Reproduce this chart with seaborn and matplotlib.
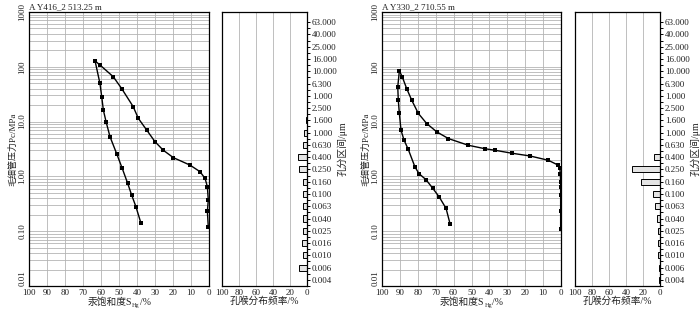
import matplotlib
matplotlib.use('Agg')
import matplotlib.pyplot as plt
import seaborn as sns
import pandas as pd
import numpy as np
from matplotlib.ticker import FixedLocator, LogLocator, NullFormatter

# Sample A Y416 (2 513.25 m): mercury injection / withdrawal curves
s1_in = [0.4, 0.9, 0.4, 0.9, 2.2, 5.0, 10.6, 19.8, 25.4, 30.0, 34.6, 39.3, 42.1, 48.5, 53.2, 60.6, 63.3]
p1_in = [0.12, 0.23, 0.37, 0.65, 0.92, 1.22, 1.61, 2.2, 3.0, 4.3, 7.0, 11.5, 18.7, 40, 66, 108, 128]
s1_out = [63.3, 60.6, 59.6, 58.7, 57.2, 55.0, 51.3, 48.2, 45.2, 43.0, 40.6, 37.8]
p1_out = [128, 50, 28.5, 16.3, 10, 5.3, 2.6, 1.40, 0.75, 0.46, 0.28, 0.14]

# Sample A Y330 (2 710.55 m)
s3_in = [0.2, 0.2, 0.2, 0.2, 0.2, 0.4, 0.6, 1.5, 7.1, 17.3, 27.5, 36.9, 42.5, 51.8, 62.9, 69.4, 75.0, 79.7, 83.4, 86.2, 88.7, 90.3]
p3_in = [0.108, 0.23, 0.45, 0.65, 0.8, 1.12, 1.40, 1.60, 1.97, 2.36, 2.65, 3.0, 3.2, 3.7, 4.9, 6.5, 9.2, 14.1, 24.6, 40, 65.7, 84.5]
s3_out = [90.3, 91.2, 90.9, 90.3, 89.4, 87.7, 85.3, 81.6, 79.3, 75.4, 71.7, 68.0, 64.2, 62.0]
p3_out = [84.5, 43, 24.6, 14.1, 7.0, 4.6, 3.1, 1.49, 1.12, 0.87, 0.61, 0.42, 0.26, 0.137]

# pore throat size classes (um) and frequency (%)
sizes = ['63.000', '40.000', '25.000', '16.000', '10.000', '6.300', '1.000', '2.500',
         '1.600', '1.000', '0.630', '0.400', '0.250', '0.160', '0.100', '0.063',
         '0.040', '0.025', '0.016', '0.010', '0.006', '0.004']
freq1 = [0, 0, 0, 0, 0, 0, 0, 0, 1.5, 3, 5, 11, 9, 5, 5, 4.5, 4.5, 5, 5.5, 4.5, 9, 0.5]
freq3 = [0, 0, 0, 0, 0, 0, 0, 0, 0, 0, 0, 6.5, 33.5, 22.5, 8.5, 5.5, 3.5, 2, 2, 2, 1.5, 1]

sns.set_style('ticks')
plt.rcParams['font.family'] = ['Liberation Serif', 'Noto Sans CJK SC']
plt.rcParams['font.size'] = 7
plt.rcParams['xtick.labelsize'] = 6.5
plt.rcParams['ytick.labelsize'] = 6.5
plt.rcParams['text.color'] = '#222222'
plt.rcParams['axes.labelcolor'] = '#222222'
plt.rcParams['xtick.color'] = '#222222'
plt.rcParams['ytick.color'] = '#222222'

fig = plt.figure(figsize=(7, 3.09), dpi=100)
grid_col = '#b4b4b4'


def xlabel_sub(ax):
    # "汞饱和度S_Hg/%" with a real subscript, built from three texts
    pieces = [('汞饱和度S', 7, 0), ('Hg', 4.5, -1.5), ('/%', 7, 0)]
    base = -19
    texts = [ax.annotate(s, xy=(0.5, 0), xycoords='axes fraction',
                         xytext=(0, base + dy), textcoords='offset pixels',
                         fontsize=fs, ha='left', va='baseline')
             for s, fs, dy in pieces]
    fig.canvas.draw()
    widths = [t.get_window_extent().width for t in texts]
    x = -sum(widths) / 2
    for t, w, (s, fs, dy) in zip(texts, widths, pieces):
        t.set_position((x, base + dy))
        x += w


def pc_panel(ax, s_in, p_in, s_out, p_out, title):
    ax.set_yscale('log')
    df_in = pd.DataFrame({'S': s_in, 'Pc': p_in})
    df_out = pd.DataFrame({'S': s_out, 'Pc': p_out})
    for df in (df_in, df_out):
        sns.lineplot(data=df, x='S', y='Pc', sort=False, estimator=None, ax=ax,
                     color='black', linewidth=1.0, marker='s', markersize=2.6,
                     markeredgewidth=0)
    ax.set_xlim(100, 0)
    ax.set_ylim(0.01, 1000)
    ax.set_xticks(range(0, 101, 10))
    ax.set_xticklabels([str(v) for v in range(0, 101, 10)])
    ax.yaxis.set_major_locator(FixedLocator([0.01, 0.1, 1, 10, 100, 1000]))
    labels = ax.set_yticklabels(['0.01', '0.10', '1.00', '10.0', '100', '1000'],
                                rotation=90, va='center')
    labels[0].set_va('bottom')
    ax.yaxis.set_minor_locator(LogLocator(base=10, subs=range(2, 10)))
    ax.yaxis.set_minor_formatter(NullFormatter())
    ax.grid(True, which='both', axis='y', color=grid_col, linewidth=0.6)
    ax.grid(True, which='major', axis='x', color=grid_col, linewidth=0.6)
    ax.tick_params(which='both', length=0, pad=2)
    for sp in ax.spines.values():
        sp.set_color('black')
        sp.set_linewidth(0.9)
    ax.set_xlabel('')
    ax.set_ylabel('毛细管压力Pc/MPa', labelpad=1, fontsize=6.5)
    ax.set_title(title, loc='left', pad=2, fontsize=6.5)
    xlabel_sub(ax)


def hist_panel(ax, freq):
    pos = np.arange(len(sizes))
    sns.barplot(x=freq, y=pos, orient='h', native_scale=True, width=0.5,
                color='#e4e4e4', saturation=1, edgecolor='black', linewidth=0.7, ax=ax)
    ax.set_xlim(100, 0)
    ax.set_ylim(len(sizes) - 0.68, -0.83)
    ax.set_xticks([100, 80, 60, 40, 20, 0])
    ax.set_xticklabels(['100', '80', '60', '40', '20', '0'])
    ax.grid(True, which='major', axis='x', color=grid_col, linewidth=0.6)
    ax.yaxis.tick_right()
    ax.yaxis.set_label_position('right')
    ax.set_yticks(pos)
    ax.set_yticklabels(sizes)
    ax.set_yticks(pos + 0.5, minor=True)
    ax.tick_params(axis='y', which='both', length=2, width=0.7, pad=1.5, color='black')
    ax.tick_params(axis='x', length=0, pad=2)
    for sp in ax.spines.values():
        sp.set_color('black')
        sp.set_linewidth(0.9)
    ax.set_xlabel('孔喉分布频率/%', labelpad=0)
    ax.set_ylabel('孔分区间/μm', labelpad=0.5)


ax1 = fig.add_axes([29 / 700, 23 / 309, 180 / 700, 274 / 309])
ax2 = fig.add_axes([222 / 700, 23 / 309, 85 / 700, 274 / 309])
ax3 = fig.add_axes([382 / 700, 23 / 309, 179 / 700, 274 / 309])
ax4 = fig.add_axes([575 / 700, 23 / 309, 85 / 700, 274 / 309])

pc_panel(ax1, s1_in, p1_in, s1_out, p1_out, 'A Y416_2 513.25 m')
hist_panel(ax2, freq1)
pc_panel(ax3, s3_in, p3_in, s3_out, p3_out, 'A Y330_2 710.55 m')
hist_panel(ax4, freq3)

fig.savefig('out.png', dpi=100, facecolor='white')
